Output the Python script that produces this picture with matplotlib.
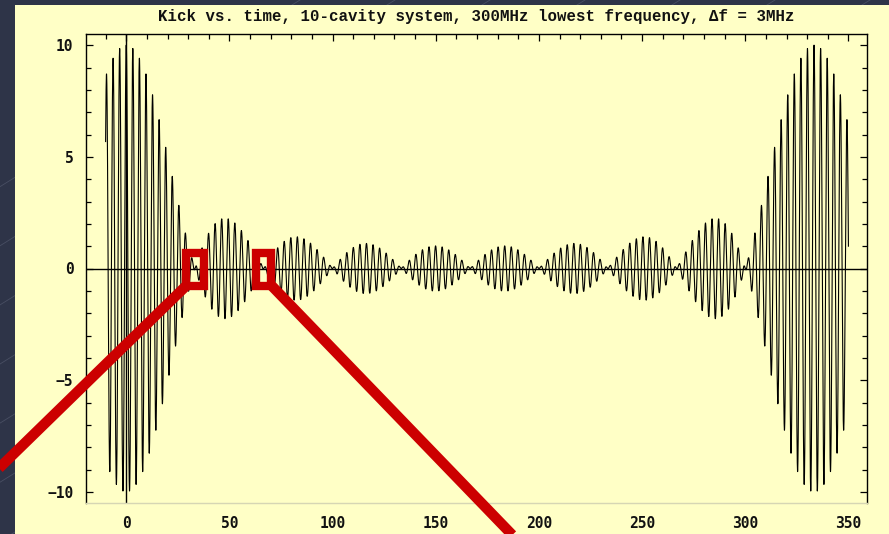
import numpy as np
import matplotlib
matplotlib.use("Agg")
import matplotlib.pyplot as plt
from matplotlib.patches import Rectangle
from matplotlib.lines import Line2D
from matplotlib.ticker import MultipleLocator

# ---- data (model stated in the title: 10 cavities, 300 MHz lowest, 3 MHz spacing) ----
cavity_freq_mhz = [300, 303, 306, 309, 312, 315, 318, 321, 324, 327]
t_start_ns = -10.0
t_end_ns = 350.0
x_ticks = [0, 50, 100, 150, 200, 250, 300, 350]
y_ticks = [-10, -5, 0, 5, 10]
title = "Kick vs. time, 10-cavity system, 300MHz lowest frequency, \u0394f = 3MHz"

t = np.linspace(t_start_ns, t_end_ns, 40000)
kick = np.zeros_like(t)
for f in cavity_freq_mhz:
    kick += np.cos(2 * np.pi * (f / 1000.0) * t)

W, H = 889, 534
fig = plt.figure(figsize=(W / 100, H / 100), dpi=100)
fig.patch.set_facecolor("#2e3448")

def fx(px):
    return px / W

def fy(py):
    return 1 - py / H

# faint diagonal background lines
for x0 in range(-600, 1000, 95):
    fig.add_artist(Line2D([fx(x0), fx(x0 + 900)], [fy(560), fy(0)],
                          color="#5a6075", lw=0.6, alpha=0.6, zorder=0))

# yellow panel
fig.add_artist(Rectangle((fx(15), 0), 1 - fx(15), fy(5), transform=fig.transFigure,
                         facecolor="#ffffc6", edgecolor="none", zorder=0.5))

ax = fig.add_axes([fx(86), fy(503), fx(867) - fx(86), fy(34) - fy(503)])
ax.set_zorder(2)
ax.set_facecolor("#ffffc6")
ax.set_xlim(-19.5, 359)
ax.set_ylim(-10.5, 10.5)

ax.plot(t, kick, color="black", lw=0.8, zorder=3)
ax.axhline(0, color="black", lw=1.0, zorder=2)
ax.axvline(0, color="black", lw=1.0, zorder=2)

for s in ["left", "top", "right"]:
    ax.spines[s].set_color("black")
    ax.spines[s].set_linewidth(1.0)
ax.spines["bottom"].set_color("#d6d6b4")
ax.spines["bottom"].set_linewidth(1.0)

ax.set_xticks(x_ticks)
ax.set_yticks(y_ticks)
ax.set_xticklabels([str(v) for v in x_ticks])
ax.set_yticklabels(["\u2212" + str(-v) if v < 0 else str(v) for v in y_ticks])
ax.xaxis.set_minor_locator(MultipleLocator(10))
ax.yaxis.set_minor_locator(MultipleLocator(1))

ax.tick_params(axis="x", which="both", direction="in", bottom=False, top=True,
               labelbottom=True, color="black", width=0.9, pad=9)
ax.tick_params(axis="y", which="both", direction="in", left=True, right=True,
               labelleft=True, color="black", width=0.9, pad=9)
ax.tick_params(which="major", length=5)
ax.tick_params(which="minor", length=3.5)
for lab in ax.get_xticklabels() + ax.get_yticklabels():
    lab.set_fontfamily("DejaVu Sans Mono")
    lab.set_fontweight("bold")
    lab.set_fontsize(10.5)
    lab.set_color("#111111")

fig.text((fx(86) + fx(867)) / 2, fy(16), title, ha="center", va="center",
         fontfamily=["Liberation Mono", "DejaVu Sans Mono"], fontweight="bold",
         fontsize=11.3, color="#111111")

# red annotation boxes and pointer lines
red = "#cc0000"
for (l, r) in [(186, 204), (256, 271)]:
    fig.add_artist(Rectangle((fx(l), fy(286)), fx(r) - fx(l), fy(253) - fy(286),
                             transform=fig.transFigure, facecolor="none",
                             edgecolor=red, lw=6, joinstyle="miter", zorder=10))
fig.add_artist(Line2D([fx(188), fx(-10)], [fy(284), fy(477)], color=red, lw=7.5,
                      solid_capstyle="butt", zorder=10))
fig.add_artist(Line2D([fx(270), fx(522)], [fy(284), fy(545)], color=red, lw=7.5,
                      solid_capstyle="butt", zorder=10))

fig.savefig("out.png", dpi=100, facecolor=fig.get_facecolor())
